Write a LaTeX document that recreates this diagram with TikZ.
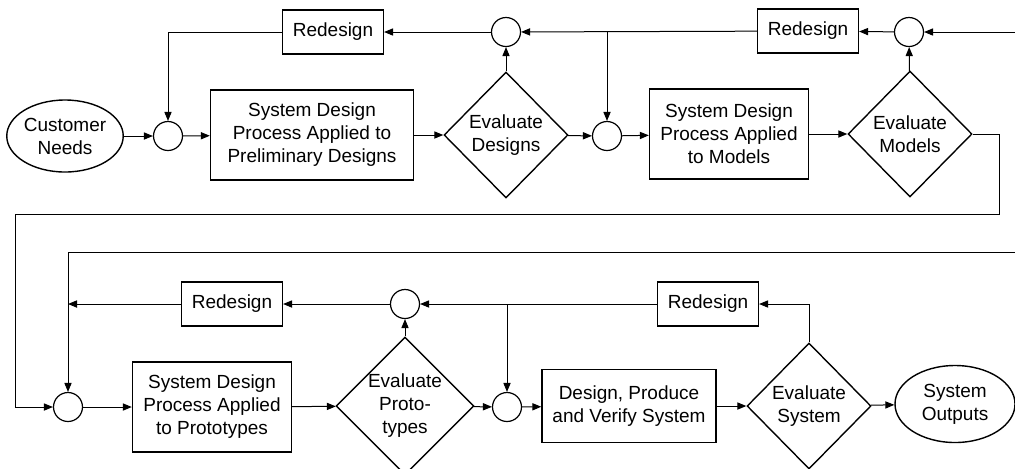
\documentclass[tikz,border=0pt]{standalone}
\usepackage{fontspec}
\setmainfont{Liberation Sans}
\usetikzlibrary{arrows.meta, positioning}
\usetikzlibrary{shapes.geometric}

\begin{document}
\begin{tikzpicture}[x=0.5pt, y=-0.5pt,
every node/.append style = {inner sep=1pt, align=center,
                            font=\fontsize{9.5}{11.5}\selectfont},
   proc/.style = {rectangle, draw, line width=0.7pt,
                  minimum width=#1*0.5pt, minimum height=45pt},
   proc/.default = 159,
  redes/.style = {rectangle, draw, line width=0.6pt,
                  minimum width=50.5pt, minimum height=22pt},
  evalu/.style = {diamond, draw, line width=0.7pt, inner sep=0pt,
                  minimum width=62pt, minimum height=63pt},
    sum/.style = {circle, draw, line width=0.6pt, inner sep=0pt,
                  minimum size=14.5pt},
   term/.style = {ellipse, draw, line width=0.7pt, inner sep=0pt,
                  minimum width=#1*0.5pt, minimum height=36pt},
    pil/.style = {line width=0.5pt, -{Triangle[length=4.5pt,width=3.6pt]}}
                    ]
\useasboundingbox (0,0) rectangle (1015,468);
%nodes, upper row
\node (cust)  [term=114]  at (65,136)   {Customer\\Needs};
\node (s1)    [sum]       at (168,136)  {};
\node (sdp)   [proc=203]  at (312,135)  {System Design\\Process Applied to\\Preliminary Designs};
\node (evd)   [evalu]     at (506,135)  {Evaluate\\Designs};
\node (t1)    [sum]       at (506,32)   {};
\node (rd1)   [redes]     at (333,32)   {Redesign};
\node (s2)    [sum]       at (607,136)  {};
\node (sdm)   [proc]      at (729,134)  {System Design\\Process Applied\\to Models};
\node (evm)   [evalu]     at (910,134)  {Evaluate\\Models};
\node (t2)    [sum]       at (909,32)   {};
\node (rd2)   [redes]     at (808,31)   {Redesign};
%nodes, lower row
\node (s3)    [sum]       at (68,407)   {};
\node (sdt)   [proc]      at (212,407)  {System Design\\Process Applied\\to Prototypes};
\node (evp)   [evalu]     at (405,406)  {Evaluate\\Proto-\\types};
\node (t3)    [sum]       at (405,304)  {};
\node (rd3)   [redes]     at (232,304)  {Redesign};
\node (s4)    [sum]       at (507,407)  {};
\node (dpv)   [proc=174, minimum height=36.5pt]
                          at (629,406)  {Design, Produce\\and Verify System};
\node (evs)   [evalu]     at (809,406)  {Evaluate\\System};
\node (outs)  [term=120, minimum height=38.5pt]
                          at (955,404)  {System\\Outputs};
\node (rd4)   [redes]     at (708,304)  {Redesign};
% loose ends
\coordinate (in1) at (1015,32);
\coordinate (in2) at (1015,252);
\coordinate (k1)  at (999,214);
\coordinate (k2)  at (15,214);
% edges, upper row
\draw[pil]  (cust)  -- (s1);
\draw[pil]  (s1)    -- (sdp);
\draw[pil]  (sdp)   -- (evd);
\draw[pil]  (evd)   -- (t1);
\draw[pil]  (t1)    -- (rd1);
\draw[pil]  (rd1)   -| (s1);
\draw[pil]  (evd)   -- (s2);
\draw[pil]  (s2)    -- (sdm);
\draw[pil]  (sdm)   -- (evm);
\draw[pil]  (evm)   -- (t2);
\draw[pil]  (t2)    -- (rd2);
\draw[pil]  (rd2)   -- (t1);
\draw[pil]  (s2 |- t1) -- (s2);
\draw[pil]  (in1)   -- (t2);
\draw[pil]  (evm.east) -| (k1) -- (k2) |- (s3);
% edges, lower row
\draw[pil]  (in2)   -| (s3);
\draw[pil]  (s3)    -- (sdt);
\draw[pil]  (sdt)   -- (evp);
\draw[pil]  (evp)   -- (t3);
\draw[pil]  (t3)    -- (rd3);
\draw[pil]  (rd3)   -- (s3 |- rd3);
\draw[pil]  (evp)   -- (s4);
\draw[pil]  (s4)    -- (dpv);
\draw[pil]  (dpv)   -- (evs);
\draw[pil]  (evs)   -- (outs);
\draw[pil]  (evs.north) |- (rd4);
\draw[pil]  (rd4)   -- (t3);
\draw[pil]  (s4 |- t3) -- (s4);
\end{tikzpicture}
\end{document}
